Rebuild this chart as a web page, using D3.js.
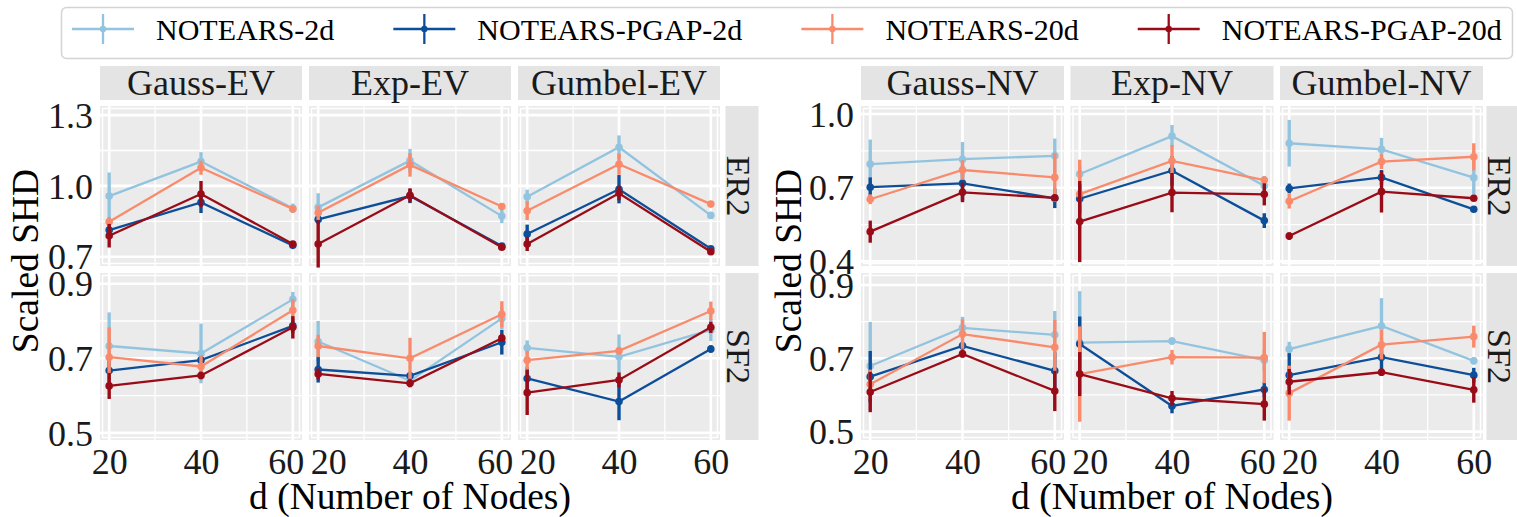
<!DOCTYPE html>
<html><head><meta charset="utf-8">
<script src="https://cdn.jsdelivr.net/npm/d3@7"></script>
<style>
html,body{margin:0;padding:0;background:#fff;}
svg{display:block;font-family:"Liberation Serif","Times New Roman","DejaVu Serif",serif;}
svg text{font-family:"Liberation Serif","Times New Roman","DejaVu Serif",serif;}
</style></head>
<body>
<svg id="chart" width="1517" height="517"></svg>
<script>
// ---------- data ----------
const seriesNames = ["NOTEARS-2d","NOTEARS-PGAP-2d","NOTEARS-20d","NOTEARS-PGAP-20d"];
const seriesColors = ["#93c4df","#0d4e98","#f98b6c","#990c17"];
const nodes = [20,40,60];
const xTicks = [20,40,60];
const evCols = ["Gauss-EV","Exp-EV","Gumbel-EV"];
const nvCols = ["Gauss-NV","Exp-NV","Gumbel-NV"];
const rowNames = ["ER2","SF2"];
const evTicksER2 = [0.7,1.0,1.3];
const evTicksSF2 = [0.5,0.7,0.9];
const nvTicksER2 = [0.4,0.7,1.0];
const nvTicksSF2 = [0.5,0.7,0.9];
const yTitle = "Scaled SHD";
const xTitle = "d (Number of Nodes)";

// rows: series in order NOTEARS-2d, NOTEARS-PGAP-2d, NOTEARS-20d, NOTEARS-PGAP-20d; columns: d = 20, 40, 60
const EV_ER2_Gauss_mean = [[0.957,1.103,0.905],[0.813,0.930,0.748],[0.848,1.077,0.902],[0.789,0.966,0.754]];
const EV_ER2_Gauss_err  = [[0.10,0.04,0.02],[0.02,0.045,0.01],[0.02,0.03,0.01],[0.05,0.055,0.01]];
const EV_ER2_Exp_mean   = [[0.909,1.107,0.872],[0.858,0.957,0.745],[0.886,1.089,0.913],[0.754,0.960,0.740]];
const EV_ER2_Exp_err    = [[0.06,0.05,0.03],[0.02,0.03,0.01],[0.03,0.05,0.01],[0.10,0.03,0.01]];
const EV_ER2_Gumbel_mean= [[0.954,1.164,0.875],[0.796,0.986,0.734],[0.895,1.092,0.923],[0.754,0.969,0.721]];
const EV_ER2_Gumbel_err = [[0.03,0.05,0.01],[0.04,0.06,0.01],[0.04,0.045,0.01],[0.03,0.03,0.01]];
const EV_SF2_Gauss_mean = [[0.733,0.713,0.858],[0.667,0.695,0.787],[0.703,0.678,0.829],[0.626,0.654,0.783]];
const EV_SF2_Gauss_err  = [[0.09,0.08,0.02],[0.03,0.01,0.02],[0.08,0.03,0.03],[0.035,0.01,0.03]];
const EV_SF2_Exp_mean   = [[0.745,0.640,0.807],[0.670,0.653,0.743],[0.733,0.700,0.818],[0.658,0.633,0.754]];
const EV_SF2_Exp_err    = [[0.055,0.02,0.03],[0.035,0.01,0.033],[0.03,0.055,0.035],[0.015,0.01,0.01]];
const EV_SF2_Gumbel_mean= [[0.728,0.704,0.776],[0.646,0.584,0.725],[0.695,0.720,0.827],[0.608,0.642,0.783]];
const EV_SF2_Gumbel_err = [[0.02,0.06,0.03],[0.03,0.05,0.01],[0.025,0.01,0.025],[0.06,0.02,0.015]];

const NV_ER2_Gauss_mean = [[0.796,0.816,0.830],[0.702,0.718,0.657],[0.653,0.772,0.742],[0.521,0.681,0.659]];
const NV_ER2_Gauss_err  = [[0.10,0.07,0.07],[0.04,0.07,0.04],[0.02,0.04,0.10],[0.045,0.04,0.01]];
const NV_ER2_Exp_mean   = [[0.756,0.910,0.708],[0.655,0.769,0.566],[0.674,0.809,0.731],[0.562,0.680,0.673]];
const NV_ER2_Exp_err    = [[0.03,0.045,0.04],[0.06,0.06,0.03],[0.14,0.065,0.01],[0.165,0.08,0.045]];
const NV_ER2_Gumbel_mean= [[0.881,0.856,0.741],[0.697,0.742,0.612],[0.645,0.806,0.826],[0.503,0.684,0.657]];
const NV_ER2_Gumbel_err = [[0.095,0.047,0.07],[0.02,0.03,0.01],[0.03,0.03,0.055],[0.015,0.085,0.01]];
const NV_SF2_Gauss_mean = [[0.679,0.783,0.764],[0.650,0.734,0.666],[0.629,0.766,0.730],[0.608,0.712,0.611]];
const NV_SF2_Gauss_err  = [[0.12,0.03,0.065],[0.07,0.01,0.05],[0.04,0.04,0.075],[0.055,0.01,0.055]];
const NV_SF2_Exp_mean   = [[0.743,0.747,0.695],[0.739,0.570,0.615],[0.657,0.703,0.702],[0.657,0.591,0.575]];
const NV_SF2_Exp_err    = [[0.14,0.01,0.03],[0.075,0.02,0.02],[0.13,0.02,0.07],[0.06,0.02,0.045]];
const NV_SF2_Gumbel_mean= [[0.725,0.788,0.693],[0.654,0.703,0.654],[0.605,0.737,0.759],[0.636,0.662,0.614]];
const NV_SF2_Gumbel_err = [[0.02,0.076,0.01],[0.06,0.035,0.02],[0.075,0.04,0.03],[0.035,0.01,0.035]];

// ---------- layout ----------
const svg = d3.select("#chart");
const SERIF = "Liberation Serif, Times New Roman, DejaVu Serif, serif";
const FONT_TICK = 36, FONT_STRIP = 36, FONT_ROWSTRIP = 34, FONT_TITLE = 37.5, FONT_LEGEND = 30;
const PANEL_BG = "#ebebeb", STRIP_BG = "#e4e4e4";
const rowBoxes = [[106,266],[273,440]];
const stripTop = 66, stripBottom = 100;

function minorOf(t){ const m=[]; for(let i=0;i<t.length-1;i++) m.push((t[i]+t[i+1])/2); return m; }

function drawFigure(cfg){
  const g = svg.append("g").attr("font-family",SERIF);
  const xDomain = [18,62];
  const nCols = cfg.cols.length;
  cfg.cols.forEach((colName, ci) => {
    const px = cfg.x0 + ci*(cfg.panelW + cfg.gap);
    const x = d3.scaleLinear().domain(xDomain).range([px, px+cfg.panelW]);
    // column strip
    g.append("rect").attr("x",px).attr("y",stripTop).attr("width",cfg.panelW).attr("height",stripBottom-stripTop).attr("fill",STRIP_BG);
    g.append("text").attr("x",px+cfg.panelW/2).attr("y",stripBottom-5).attr("text-anchor","middle")
      .attr("font-size",FONT_STRIP).attr("fill","#1a1a1a").text(colName);
    rowNames.forEach((rowName, ri) => {
      const [top,bot] = rowBoxes[ri];
      const y = d3.scaleLinear().domain(cfg.yDomains[ri]).range([bot, top]);
      const ticks = cfg.yTicks[ri];
      const pg = g.append("g");
      pg.append("rect").attr("x",px).attr("y",top).attr("width",cfg.panelW).attr("height",bot-top).attr("fill",PANEL_BG);
      // minor grid
      minorOf(ticks).forEach(v => pg.append("line").attr("x1",px).attr("x2",px+cfg.panelW).attr("y1",y(v)).attr("y2",y(v)).attr("stroke","#fff").attr("stroke-width",1.3));
      minorOf(xTicks).forEach(v => pg.append("line").attr("x1",x(v)).attr("x2",x(v)).attr("y1",top).attr("y2",bot).attr("stroke","#fff").attr("stroke-width",1.3));
      // major grid
      ticks.forEach(v => pg.append("line").attr("x1",px).attr("x2",px+cfg.panelW).attr("y1",y(v)).attr("y2",y(v)).attr("stroke","#fff").attr("stroke-width",2.6));
      xTicks.forEach(v => pg.append("line").attr("x1",x(v)).attr("x2",x(v)).attr("y1",top).attr("y2",bot).attr("stroke","#fff").attr("stroke-width",2.6));
      // inner edge line
      pg.append("rect").attr("x",px+2.5).attr("y",top+2.5).attr("width",cfg.panelW-5).attr("height",bot-top-5)
        .attr("fill","none").attr("stroke","#fff").attr("stroke-width",1.5);
      // data
      const means = cfg.data[ri][ci][0], errs = cfg.data[ri][ci][1];
      seriesNames.forEach((s, si) => {
        const pts = nodes.map((d,k)=>({d, m:means[si][k], e:errs[si][k]}));
        const sg = pg.append("g");
        sg.selectAll("line.err").data(pts).join("line").attr("class","err")
          .attr("x1",p=>x(p.d)).attr("x2",p=>x(p.d)).attr("y1",p=>y(p.m-p.e)).attr("y2",p=>y(p.m+p.e))
          .attr("stroke",seriesColors[si]).attr("stroke-width",3.4);
        sg.append("path").datum(pts).attr("fill","none").attr("stroke",seriesColors[si]).attr("stroke-width",2.3)
          .attr("d", d3.line().x(p=>x(p.d)).y(p=>y(p.m)));
        sg.selectAll("circle").data(pts).join("circle").attr("cx",p=>x(p.d)).attr("cy",p=>y(p.m)).attr("r",3.8)
          .attr("fill",seriesColors[si]);
      });
      // y axis on first column
      if (ci === 0) {
        const ax = g.append("g").attr("transform",`translate(${px-7},0)`)
          .call(d3.axisLeft(y).tickValues(ticks).tickSize(0).tickPadding(0).tickFormat(d3.format(".1f")));
        ax.attr("font-family",SERIF).attr("font-size",FONT_TICK);
        ax.select(".domain").remove();
        ax.selectAll("text").attr("fill","#1a1a1a").attr("dy","0.34em");
      }
      // x axis on bottom row
      if (ri === rowNames.length-1) {
        const ax = g.append("g").attr("transform",`translate(0,${bot+7})`)
          .call(d3.axisBottom(x).tickValues(xTicks).tickSize(0).tickPadding(0).tickFormat(d3.format("d")));
        ax.attr("font-family",SERIF).attr("font-size",FONT_TICK);
        ax.select(".domain").remove();
        // neighbouring panels' end labels are pushed apart so they do not collide
        ax.selectAll("text").attr("fill","#1a1a1a").attr("dy","0.74em")
          .attr("dx", d => (d === xTicks[0] && ci > 0) ? 10 : (d === xTicks[xTicks.length-1] && ci < nCols-1) ? -7 : 0);
      }
      // row strip on last column
      if (ci === nCols-1) {
        const sx = px + cfg.panelW + cfg.stripGap;
        g.append("rect").attr("x",sx).attr("y",top).attr("width",cfg.stripW).attr("height",bot-top).attr("fill",STRIP_BG);
        g.append("text").attr("transform",`translate(${sx+1},${(top+bot)/2}) rotate(90)`)
          .attr("text-anchor","middle").attr("font-size",FONT_ROWSTRIP).attr("fill","#1a1a1a").text(rowName);
      }
    });
  });
  // axis titles
  const fullW = nCols*cfg.panelW + (nCols-1)*cfg.gap;
  g.append("text").attr("x",cfg.x0+fullW/2).attr("y",509).attr("text-anchor","middle")
    .attr("font-family",SERIF).attr("font-size",FONT_TITLE).attr("fill","#000").text(xTitle);
  g.append("text").attr("transform",`translate(${cfg.yTitleX},261) rotate(-90)`)
    .attr("text-anchor","middle").attr("font-family",SERIF).attr("font-size",FONT_TITLE).attr("fill","#000").text(yTitle);
}

drawFigure({
  x0:100, panelW:202, gap:7, stripGap:5.5, stripW:33, cols:evCols, yTitleX:38,
  yDomains:[[0.6606,1.3386],[0.481,0.9287]], yTicks:[evTicksER2, evTicksSF2],
  data:[[[EV_ER2_Gauss_mean,EV_ER2_Gauss_err],[EV_ER2_Exp_mean,EV_ER2_Exp_err],[EV_ER2_Gumbel_mean,EV_ER2_Gumbel_err]],
        [[EV_SF2_Gauss_mean,EV_SF2_Gauss_err],[EV_SF2_Exp_mean,EV_SF2_Exp_err],[EV_SF2_Gumbel_mean,EV_SF2_Gumbel_err]]]
});
drawFigure({
  x0:861, panelW:203, gap:6.5, stripGap:3.5, stripW:32, cols:nvCols, yTitleX:801,
  yDomains:[[0.3812,1.0327],[0.4772,0.9326]], yTicks:[nvTicksER2, nvTicksSF2],
  data:[[[NV_ER2_Gauss_mean,NV_ER2_Gauss_err],[NV_ER2_Exp_mean,NV_ER2_Exp_err],[NV_ER2_Gumbel_mean,NV_ER2_Gumbel_err]],
        [[NV_SF2_Gauss_mean,NV_SF2_Gauss_err],[NV_SF2_Exp_mean,NV_SF2_Exp_err],[NV_SF2_Gumbel_mean,NV_SF2_Gumbel_err]]]
});

// ---------- legend ----------
const lg = svg.append("g").attr("font-family",SERIF);
lg.append("rect").attr("x",61.5).attr("y",7.5).attr("width",1451).attr("height",51).attr("rx",5)
  .attr("fill","#fff").attr("stroke","#d4d4d4").attr("stroke-width",1.5);
let lx = 72;
seriesNames.forEach((s, si) => {
  const c = seriesColors[si];
  const it = lg.append("g");
  it.append("line").attr("x1",lx).attr("x2",lx+62).attr("y1",29).attr("y2",29).attr("stroke",c).attr("stroke-width",2.3);
  it.append("line").attr("x1",lx+31).attr("x2",lx+31).attr("y1",14).attr("y2",44).attr("stroke",c).attr("stroke-width",2.3);
  it.append("circle").attr("cx",lx+31).attr("cy",29).attr("r",3.2).attr("fill",c);
  const t = it.append("text").attr("x",lx+84).attr("y",39.5).attr("font-size",FONT_LEGEND).attr("fill","#000").text(s);
  lx = lx + 84 + t.node().getComputedTextLength() + 59;
});
</script>
</body></html>
